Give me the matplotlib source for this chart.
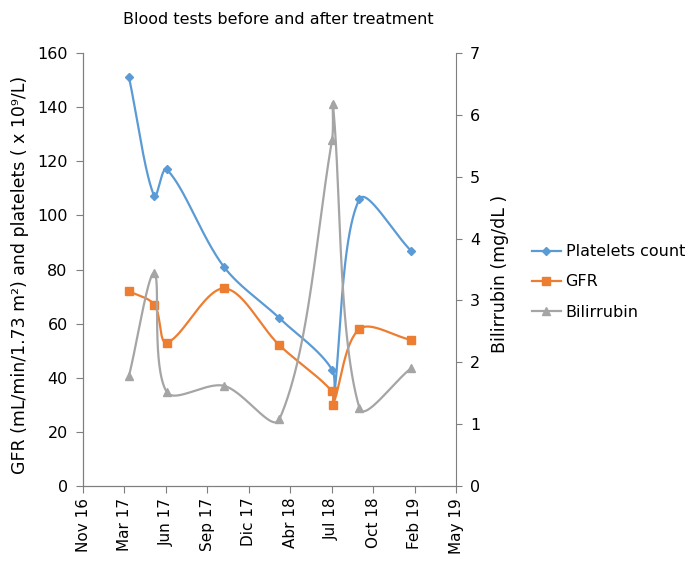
import numpy as np
import pandas as pd
import matplotlib
matplotlib.use("Agg")
import matplotlib.pyplot as plt
import matplotlib.dates as mdates
from matplotlib.lines import Line2D

# sample dates (two samples close together in July 2018)
dates = ["2017-03-17", "2017-05-17", "2017-06-16", "2017-11-01", "2018-03-15",
         "2018-07-20", "2018-07-22", "2018-09-24", "2019-01-26"]
platelets = [151, 107, 117, 81, 62, 43, 30, 106, 87]
gfr = [72, 67, 53, 73, 52, 35, 30, 58, 54]
bilirrubin = [1.78, 3.44, 1.52, 1.62, 1.08, 5.6, 6.17, 1.26, 1.9]

axis_start = "2016-11-26"
tick_step_days = 100
tick_labels = ["Nov 16", "Mar 17", "Jun 17", "Sep 17", "Dic 17",
               "Abr 18", "Jul 18", "Oct 18", "Feb 19", "May 19"]

BLUE = "#5B9BD5"
ORANGE = "#ED7D31"
GRAY = "#A5A5A5"
AXC = "#7F7F7F"


def smooth(x, y, sx, sy, n=60):
    # smoothed line like a spreadsheet: Bezier segments, tangents scaled by
    # the chord lengths in screen units (sx, sy = pixels per data unit)
    px = np.asarray(x, float) * sx
    py = np.asarray(y, float) * sy
    P = np.column_stack([px, py])
    m = len(P)
    d = np.hypot(np.diff(px), np.diff(py))
    T = np.zeros_like(P)
    for i in range(m):
        a = P[max(i - 1, 0)]
        b = P[min(i + 1, m - 1)]
        T[i] = b - a
    t = np.linspace(0, 1, n)[:, None]
    out = []
    for i in range(m - 1):
        dp = d[i - 1] if i > 0 else 0.0
        dn = d[i + 1] if i < m - 2 else 0.0
        c1 = P[i] + T[i] * (d[i] / (dp + d[i])) / 3
        c2 = P[i + 1] - T[i + 1] * (d[i] / (d[i] + dn)) / 3
        b = (1 - t) ** 3 * P[i] + 3 * (1 - t) ** 2 * t * c1 \
            + 3 * (1 - t) * t ** 2 * c2 + t ** 3 * P[i + 1]
        out.append(b)
    out = np.vstack(out)
    return out[:, 0] / sx, out[:, 1] / sy


plt.rcParams['font.family'] = ['DejaVu Sans']
fig = plt.figure(figsize=(6.89, 5.63), dpi=100)
ax = fig.add_axes([83 / 689, 77 / 563, 373 / 689, 433 / 563])
ax2 = ax.twinx()

xd = mdates.date2num(pd.to_datetime(dates))
start = mdates.date2num(pd.Timestamp(axis_start))
ticks = start + tick_step_days * np.arange(len(tick_labels))

px_day = 373 / (tick_step_days * (len(tick_labels) - 1))
px_left = 433 / 160
px_right = 433 / 7

sx, sy = smooth(xd, platelets, px_day, px_left)
ax.plot(sx, sy, color=BLUE, lw=1.6, zorder=3)
ax.plot(xd, platelets, ls="none", marker="D", ms=4.5, color=BLUE, zorder=4)
sx, sy = smooth(xd, gfr, px_day, px_left)
ax.plot(sx, sy, color=ORANGE, lw=1.6, zorder=3)
ax.plot(xd, gfr, ls="none", marker="s", ms=6, color=ORANGE, zorder=4)
sx, sy = smooth(xd, bilirrubin, px_day, px_right)
ax2.plot(sx, sy, color=GRAY, lw=1.6, zorder=3)
ax2.plot(xd, bilirrubin, ls="none", marker="^", ms=6, color=GRAY, zorder=4)

ax.set_xlim(ticks[0], ticks[-1])
ax.set_ylim(0, 160)
ax2.set_ylim(0, 7)
ax.set_xticks(ticks)
ax.set_xticklabels(tick_labels, rotation=90, fontsize=11)
ax.set_yticks(np.arange(0, 161, 20))
ax2.set_yticks(np.arange(0, 8, 1))
ax.tick_params(axis="y", labelsize=11.5, length=5, color=AXC, width=0.8, pad=6)
ax.tick_params(axis="x", length=5, color=AXC, width=0.8)
ax2.tick_params(axis="y", labelsize=11.5, length=4, color=AXC, width=0.8, pad=6)

for a in (ax, ax2):
    a.spines["top"].set_visible(False)
    for s in ("left", "right", "bottom"):
        a.spines[s].set_color(AXC)
        a.spines[s].set_linewidth(0.8)
ax.spines["right"].set_visible(False)

ax.set_ylabel("GFR (mL/min/1.73 m\u00b2) and platelets ( x 10\u2079/L)", fontsize=12.5)
ax.yaxis.set_label_coords(-54 / 373, (486 - 275) / 433)
ax2.set_ylabel("Bilirrubin (mg/dL )", fontsize=12.5)
ax2.yaxis.set_label_coords((491 - 83) / 373, (486 - 274) / 433)

fig.text(278 / 689, 1 - 20 / 563, "Blood tests before and after treatment",
         ha="center", va="center", fontsize=11.5)

handles = [Line2D([], [], color=BLUE, lw=1.6, marker="D", ms=4.5),
           Line2D([], [], color=ORANGE, lw=1.6, marker="s", ms=6),
           Line2D([], [], color=GRAY, lw=1.6, marker="^", ms=6)]
fig.legend(handles, ["Platelets count", "GFR", "Bilirrubin"],
           loc="center left", bbox_to_anchor=(532 / 689, 1 - 282 / 563),
           frameon=False, fontsize=11.5, handlelength=1.8, handletextpad=0.3,
           labelspacing=0.95, borderpad=0, borderaxespad=0)

fig.savefig("out.png", dpi=100)
